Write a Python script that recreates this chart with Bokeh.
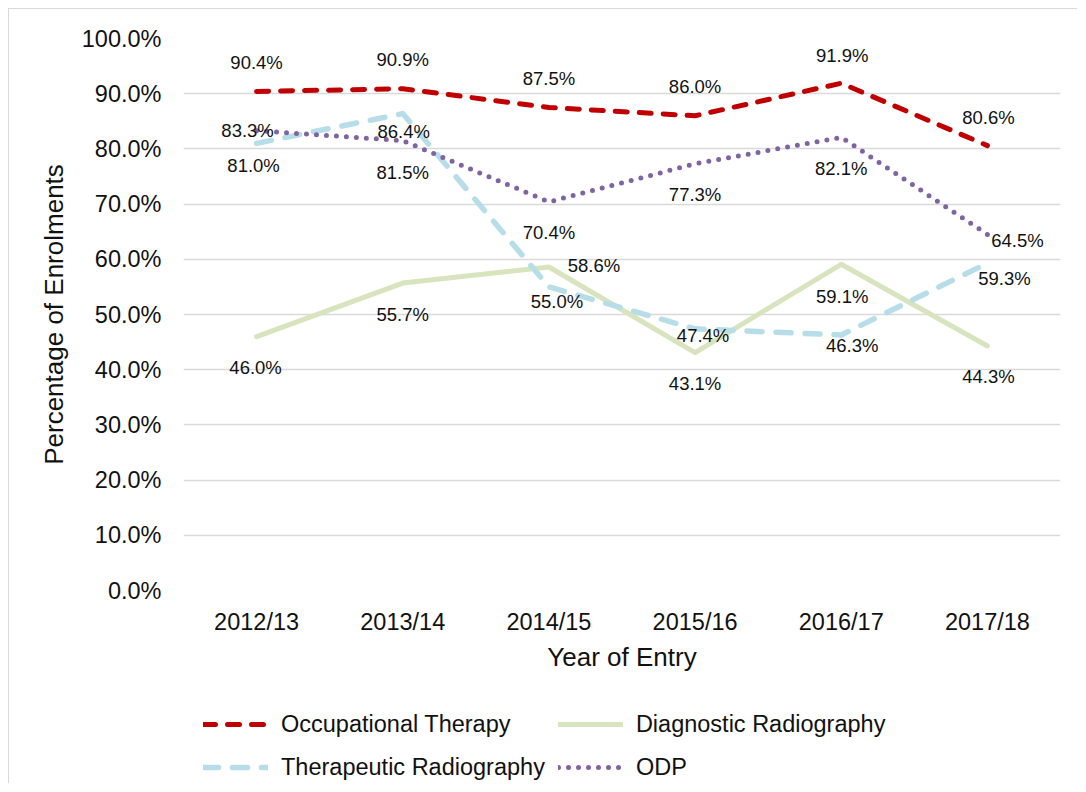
from bokeh.plotting import figure
from bokeh.layouts import column
from bokeh.models import (FactorRange, Range1d, FixedTicker, PrintfTickFormatter,
                          Legend, LegendItem, ColumnDataSource)
from bokeh.core.properties import value
from bokeh.embed import file_html
from bokeh.resources import INLINE

# ---- data ----
years = ["2012/13", "2013/14", "2014/15", "2015/16", "2016/17", "2017/18"]
occupational_therapy = [90.4, 90.9, 87.5, 86.0, 91.9, 80.6]
diagnostic_radiography = [46.0, 55.7, 58.6, 43.1, 59.1, 44.3]
therapeutic_radiography = [81.0, 86.4, 55.0, 47.4, 46.3, 59.3]
odp = [83.3, 81.5, 70.4, 77.3, 82.1, 64.5]
y_ticks = [0, 10, 20, 30, 40, 50, 60, 70, 80, 90, 100]

series_names = ["Occupational Therapy", "Diagnostic Radiography",
                "Therapeutic Radiography", "ODP"]

# ---- label placement (screen px offsets) ----
label_dx = {
    "Occupational Therapy": [0, 0, 0, 0, 1, 1],
    "Diagnostic Radiography": [-1, 0, 45, 0, 1, 1],
    "Therapeutic Radiography": [-3, 1, 8, 8, 11, 17],
    "ODP": [-9, 0, 0, 0, 0, 30],
}
label_dy = {
    "Occupational Therapy": [-29, -29, -29, -29, -28, -28],
    "Diagnostic Radiography": [31, 31, -2, 31, 32, 31],
    "Therapeutic Radiography": [22, 18, 15, 7, 11, 15],
    "ODP": [0, 32, 31, 31, 31, 6],
}

# ---- styles ----
styles = {
    "Occupational Therapy": dict(line_color="#c00000", line_width=5, line_dash="12 12", line_cap="round"),
    "Diagnostic Radiography": dict(line_color="#d7e4bd", line_width=5, line_cap="round"),
    "Therapeutic Radiography": dict(line_color="#b7dee8", line_width=5.5, line_dash="15 14", line_cap="round"),
    "ODP": dict(line_color="#8064a2", line_width=5, line_dash="0 10", line_cap="round"),
}
values_by_name = {
    "Occupational Therapy": occupational_therapy,
    "Diagnostic Radiography": diagnostic_radiography,
    "Therapeutic Radiography": therapeutic_radiography,
    "ODP": odp,
}

FONT = "Liberation Sans"
BORDER = "1px solid #d9d9d9"

p = figure(width=1069, height=690,
           x_range=FactorRange(factors=years, range_padding=0),
           y_range=Range1d(0, 100),
           output_backend="svg", toolbar_location=None,
           min_border_left=174, min_border_top=29,
           min_border_right=18, min_border_bottom=109)
p.margin = (8, 0, 0, 8)
p.styles = {"border-left": BORDER, "border-top": BORDER}
p.outline_line_color = None
p.background_fill_color = "white"
p.border_fill_color = "white"

# axes
p.xgrid.grid_line_color = None
p.ygrid.ticker = FixedTicker(ticks=y_ticks)
p.ygrid.grid_line_color = "#d9d9d9"
p.ygrid.grid_line_width = 1.5

p.yaxis.ticker = FixedTicker(ticks=y_ticks)
p.yaxis.formatter = PrintfTickFormatter(format="%.1f%%")
for ax in (p.xaxis[0], p.yaxis[0]):
    ax.axis_line_color = None
    ax.major_tick_line_color = None
    ax.minor_tick_line_color = None
    ax.major_tick_out = 0
    ax.major_tick_in = 0
    ax.major_label_text_font = FONT
    ax.major_label_text_font_size = "23.5px"
    ax.major_label_text_color = "#111111"
    ax.axis_label_text_font = FONT
    ax.axis_label_text_font_size = "26px"
    ax.axis_label_text_font_style = "normal"
    ax.axis_label_text_color = "#111111"

p.yaxis.axis_label = "Percentage of Enrolments"
p.yaxis.major_label_standoff = 22
p.yaxis.axis_label_standoff = 10
p.xaxis.axis_label = "Year of Entry"
p.xaxis.major_label_standoff = 18
p.xaxis.axis_label_standoff = 4

for name in series_names:
    vals = values_by_name[name]
    src = ColumnDataSource(dict(x=years, y=vals))
    p.line("x", "y", source=src, line_join="round", **styles[name])

for name in series_names:
    vals = values_by_name[name]
    lsrc = ColumnDataSource(dict(x=years, y=vals,
                                 t=[f"{v:.1f}%" for v in vals],
                                 dx=label_dx[name], dy=label_dy[name]))
    p.text("x", "y", text="t", source=lsrc, x_offset="dx", y_offset="dy",
           text_font=value(FONT), text_font_size=value("18.5px"),
           text_align="center", text_baseline="middle", text_color="#111111")

# ---- legend strip (separate figure below the chart; its series lie outside its view) ----
lg = figure(width=1069, height=85,
            x_range=FactorRange(factors=years, range_padding=0),
            y_range=Range1d(-200, -100),
            output_backend="svg", toolbar_location=None,
            min_border=0, min_border_left=0, min_border_right=0,
            min_border_top=0, min_border_bottom=0)
lg.margin = (0, 0, 0, 8)
lg.styles = {"border-left": BORDER}
lg.axis.visible = False
lg.grid.visible = False
lg.outline_line_color = None
lg.background_fill_color = "white"
lg.border_fill_color = "white"

items = []
for name in series_names:
    r = lg.line(x=years, y=values_by_name[name], line_join="round", **styles[name])
    items.append(LegendItem(label=name, renderers=[r]))

legend = Legend(items=items, location=(20, 1), orientation="horizontal", ncols=2,
                glyph_width=65, glyph_height=30, label_height=30, label_standoff=13,
                spacing=13, padding=0, margin=0,
                border_line_color=None, background_fill_alpha=0,
                label_text_font=FONT, label_text_font_size="23.5px",
                label_text_color="#111111")
lg.add_layout(legend)

layout = column(p, lg, spacing=0)
open("out.html", "w").write(file_html(layout, INLINE))
